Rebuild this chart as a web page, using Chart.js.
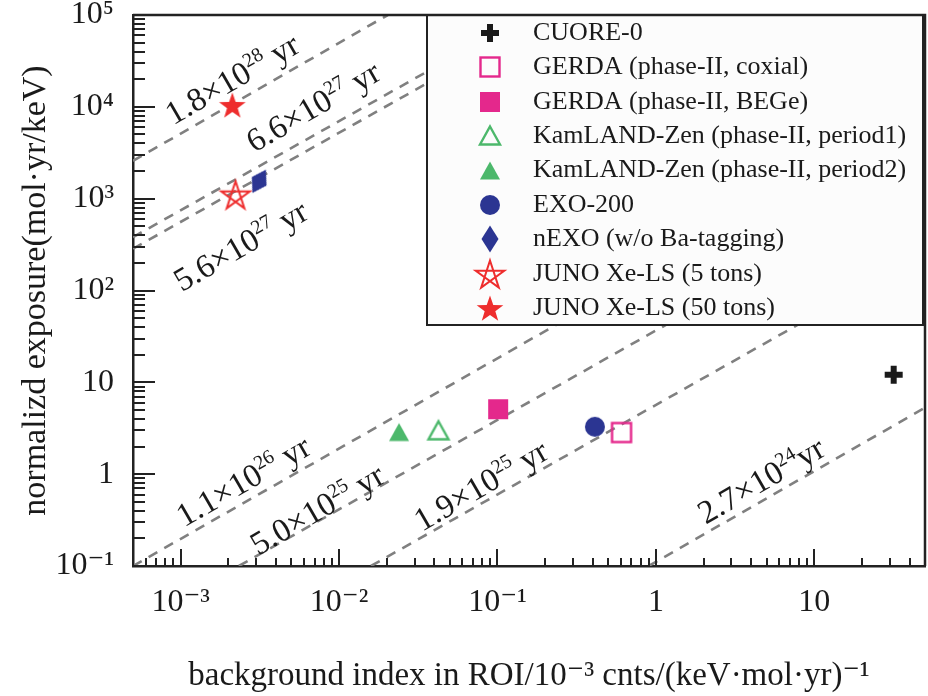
<!DOCTYPE html>
<html><head><meta charset="utf-8">
<script src="https://cdn.jsdelivr.net/npm/chart.js@4.4.1/dist/chart.umd.min.js"></script>
<style>html,body{margin:0;padding:0;background:#fff;}#wrap{width:928px;height:696px;}</style>
</head><body><div id="wrap"><canvas id="c" width="928" height="696"></canvas></div>
<script>
// ---- data ----
const experiments = ['CUORE-0','GERDA (phase-II, coxial)','GERDA (phase-II, BEGe)','KamLAND-Zen (phase-II, period1)','KamLAND-Zen (phase-II, period2)','EXO-200','nEXO (w/o Ba-tagging)','JUNO Xe-LS (5 tons)','JUNO Xe-LS (50 tons)'];
const backgroundIndex = [31.7, 0.607, 0.101, 0.0424, 0.0239, 0.412, 0.00313, 0.00222, 0.00212];
const normExposure    = [12.1, 2.84, 5.1, 2.97, 2.84, 3.28, 1545, 1106, 10500];

const halfLifeLabels = [['1.8×10','28',' yr'],['6.6×10','27',' yr'],['5.6×10','27',' yr'],['1.1×10','26',' yr'],['5.0×10','25',' yr'],['1.9×10','25',' yr'],['2.7×10','24','yr']];
const lineStartX = [5e-4, 5e-4, 5e-4, 5e-4, 0.00233, 0.0159, 0.9];
const lineStartY = [2580, 381, 285, 0.1, 0.1, 0.1, 0.1];
const lineEndX   = [0.0203, 0.043, 0.043, 0.284, 1.43, 9.7, 50];
const lineEndY   = [1e5, 28800, 21500, 51, 52, 52, 5.3];
const labelAtX   = [0.00211, 0.00685, 0.00239, 0.00248, 0.00726, 0.0785, 4.61];
const labelAtY   = [20200, 10100, 308, 0.844, 0.413, 0.758, 0.86];

const xTickValues = [1e-3, 1e-2, 1e-1, 1, 10];
const xTickLabels = ['10⁻³','10⁻²','10⁻¹','1','10'];
const yTickValues = [0.1, 1, 10, 100, 1e3, 1e4, 1e5];
const yTickLabels = ['10⁻¹','1','10','10²','10³','10⁴','10⁵'];

// ---- styles ----
const markerKinds  = ['plus','squareOpen','square','triOpen','tri','circle','diamond','starOpen','star'];
const markerColors = ['#1a1a1a','#e4288c','#e4288c','#4cb86b','#4cb86b','#2b3592','#2b3592','#ee2d2d','#ee2d2d'];
const markerRotation = [0,0,0,0,0,0,30,0,0];
const SERIF = '"Liberation Serif","DejaVu Serif","Times New Roman",serif';

function starPath(g, R, r) {
  g.beginPath();
  for (let i = 0; i < 10; i++) {
    const ang = -Math.PI/2 + i*Math.PI/5;
    const rr = i % 2 === 0 ? R : r;
    const px = rr*Math.cos(ang), py = rr*Math.sin(ang);
    if (i === 0) g.moveTo(px, py); else g.lineTo(px, py);
  }
  g.closePath();
}
function makeMarker(kind, color) {
  const S = 36, c = document.createElement('canvas');
  c.width = S; c.height = S;
  const g = c.getContext('2d');
  g.translate(S/2, S/2);
  g.fillStyle = color; g.strokeStyle = color; g.lineWidth = 2.4;
  if (kind === 'plus') { g.fillRect(-9,-3,18,6); g.fillRect(-3,-9,6,18); }
  else if (kind === 'squareOpen') { g.strokeRect(-9.5,-9.5,19,19); }
  else if (kind === 'square') { g.fillRect(-10,-10,20,20); }
  else if (kind === 'triOpen' || kind === 'tri') {
    g.beginPath(); g.moveTo(0,-9.5); g.lineTo(10,8.5); g.lineTo(-10,8.5); g.closePath();
    if (kind === 'tri') g.fill(); else g.stroke();
  }
  else if (kind === 'circle') { g.beginPath(); g.arc(0,0,10,0,Math.PI*2); g.fill(); }
  else if (kind === 'diamond') { g.beginPath(); g.moveTo(0,-13.5); g.lineTo(8.5,0); g.lineTo(0,13.5); g.lineTo(-8.5,0); g.closePath(); g.fill(); }
  else if (kind === 'starOpen') {
    g.translate(0, 1.5);
    g.beginPath();
    for (let i = 0; i <= 5; i++) {
      const ang = -Math.PI/2 + (i*2 % 5)*2*Math.PI/5;
      const px = 15*Math.cos(ang), py = 15*Math.sin(ang);
      if (i === 0) g.moveTo(px, py); else g.lineTo(px, py);
    }
    g.closePath(); g.lineWidth = 2; g.stroke();
  }
  else if (kind === 'star') { g.translate(0, 1.5); starPath(g, 14, 5.6); g.fill(); }
  return c;
}
const markerImages = markerKinds.map((k, i) => makeMarker(k, markerColors[i]));

// ---- datasets ----
const pointSets = experiments.map((name, i) => ({
  label: name,
  data: [{x: backgroundIndex[i], y: normExposure[i]}],
  pointStyle: markerImages[i],
  pointRadius: 10,
  pointRotation: markerRotation[i],
  showLine: false
}));
const lineSets = halfLifeLabels.map((lab, i) => ({
  label: lab.join(''),
  isSensitivity: true,
  data: [{x: lineStartX[i], y: lineStartY[i]}, {x: lineEndX[i], y: lineEndY[i]}],
  showLine: true,
  borderColor: '#808080',
  borderWidth: 2.6,
  borderDash: [10, 8],
  pointRadius: 0
}));

// ---- plugins ----
const axisTicks = {
  id: 'axisTicks',
  afterDatasetsDraw(chart) {
    const {ctx, chartArea: a, scales: {x, y}} = chart;
    ctx.save();
    ctx.strokeStyle = '#222'; ctx.lineWidth = 2;
    ctx.beginPath();
    for (let e = -4; e <= 1; e++) for (let m = 1; m <= 9; m++) {
      const v = m * Math.pow(10, e);
      if (v < x.min*0.999 || v > x.max*1.001) continue;
      const px = Math.round(x.getPixelForValue(v));
      const len = m === 1 ? 17 : 8;
      ctx.moveTo(px, a.bottom); ctx.lineTo(px, a.bottom - len);
    }
    for (let e = -1; e <= 5; e++) for (let m = 1; m <= 9; m++) {
      const v = m * Math.pow(10, e);
      if (v < y.min*0.999 || v > y.max*1.001) continue;
      const py = Math.round(y.getPixelForValue(v));
      const len = m === 1 ? 22 : 12;
      ctx.moveTo(a.left, py); ctx.lineTo(a.left + len, py);
    }
    ctx.stroke();
    ctx.restore();
  }
};

const lineLabels = {
  id: 'lineLabels',
  afterDatasetsDraw(chart) {
    const {ctx, scales: {x, y}} = chart;
    const F = 33;
    ctx.save();
    ctx.fillStyle = '#1a1a1a';
    halfLifeLabels.forEach((parts, i) => {
      const px = x.getPixelForValue(labelAtX[i]), py = y.getPixelForValue(labelAtY[i]);
      const qx = x.getPixelForValue(labelAtX[i]*10), qy = y.getPixelForValue(labelAtY[i]*10);
      const ang = Math.atan2(qy - py, qx - px);
      ctx.save();
      ctx.translate(px, py); ctx.rotate(ang);
      ctx.textBaseline = 'alphabetic'; ctx.textAlign = 'left';
      const big = F + 'px ' + SERIF, small = Math.round(F*0.62) + 'px ' + SERIF;
      ctx.font = big; const w1 = ctx.measureText(parts[0]).width, w3 = ctx.measureText(parts[2]).width;
      ctx.font = small; const w2 = ctx.measureText(parts[1]).width;
      const x0 = -(w1 + w2 + w3)/2, b = F*0.33;
      ctx.font = big; ctx.fillText(parts[0], x0, b);
      ctx.font = small; ctx.fillText(parts[1], x0 + w1, b - F*0.38);
      ctx.font = big; ctx.fillText(parts[2], x0 + w1 + w2, b);
      ctx.restore();
    });
    ctx.restore();
  }
};

const boxLegend = {
  id: 'boxLegend',
  afterDatasetsDraw(chart) {
    const {ctx, chartArea: a} = chart;
    const w = 496, h = 310;
    const bx = a.right - w - 2, by = a.top;
    ctx.save();
    ctx.fillStyle = '#fcfcfc';
    ctx.fillRect(bx, by, w, h);
    ctx.strokeStyle = '#222'; ctx.lineWidth = 2;
    ctx.strokeRect(bx, by, w, h);
    ctx.font = '26px ' + SERIF;
    ctx.fillStyle = '#1a1a1a';
    ctx.textBaseline = 'middle'; ctx.textAlign = 'left';
    chart.data.datasets.forEach((ds, i) => {
      if (ds.isSensitivity) return;
      const cy = by + 18 + i*34.4;
      const img = ds.pointStyle;
      ctx.drawImage(img, Math.round(bx + 63 - img.width/2), Math.round(cy - img.height/2));
      ctx.fillText(ds.label, bx + 106, cy);
    });
    ctx.restore();
  }
};

const frame = {
  id: 'frame',
  afterDraw(chart) {
    const {ctx, chartArea: a} = chart;
    ctx.save();
    ctx.strokeStyle = '#222'; ctx.lineWidth = 2.5;
    ctx.beginPath();
    ctx.moveTo(a.left, a.top); ctx.lineTo(a.right, a.top); ctx.lineTo(a.right, a.bottom);
    ctx.stroke();
    ctx.restore();
  }
};

function zeroPad(s) { s.paddingLeft = 0; s.paddingRight = 0; s.paddingTop = 0; s.paddingBottom = 0; }

Chart.defaults.font.family = SERIF;
Chart.defaults.color = '#1a1a1a';

new Chart(document.getElementById('c'), {
  type: 'scatter',
  data: {datasets: [...pointSets, ...lineSets]},
  options: {
    responsive: false,
    devicePixelRatio: 1,
    animation: false,
    events: [],
    layout: {autoPadding: false, padding: {top: 15, right: 3, left: 0, bottom: 0}},
    plugins: {legend: {display: false}, tooltip: {enabled: false}},
    scales: {
      x: {
        type: 'logarithmic', position: 'bottom', min: 5e-4, max: 50,
        afterBuildTicks: s => { s.ticks = xTickValues.map(v => ({value: v})); },
        afterFit: s => { s.height = 130; zeroPad(s); },
        grid: {display: false, drawTicks: false},
        border: {display: true, color: '#222', width: 2.5},
        ticks: {autoSkip: false, maxRotation: 0, padding: 17, font: {size: 32},
                callback: (v, i) => xTickLabels[i]},
        title: {display: true, text: 'background index in ROI/10⁻³ cnts/(keV·mol·yr)⁻¹',
                font: {size: 33}, padding: {top: 1, bottom: 0}}
      },
      y: {
        type: 'logarithmic', position: 'left', min: 0.1, max: 1e5,
        afterBuildTicks: s => { s.ticks = yTickValues.map(v => ({value: v})); },
        afterFit: s => { s.width = 133; zeroPad(s); },
        grid: {display: false, drawTicks: false},
        border: {display: true, color: '#222', width: 2.5},
        ticks: {autoSkip: false, padding: 19, font: {size: 32},
                callback: (v, i) => yTickLabels[i]},
        title: {display: true, text: 'normalizd exposure(mol·yr/keV)',
                font: {size: 34}, padding: {top: 16, bottom: 0}}
      }
    }
  },
  plugins: [axisTicks, lineLabels, boxLegend, frame]
});
</script>
</body></html>
